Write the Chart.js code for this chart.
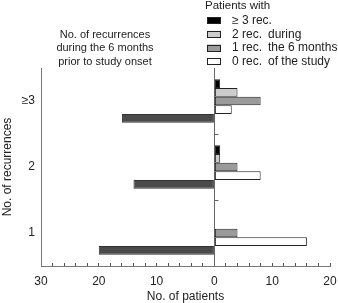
<!DOCTYPE html>
<html>
<head>
<meta charset="utf-8">
<script src="https://cdn.jsdelivr.net/npm/chart.js@4"></script>
<style>
  html, body { margin: 0; padding: 0; background: #fff; }
  #wrap { width: 338px; height: 303px; }
</style>
</head>
<body>
<div id="wrap"><canvas id="chart" width="338" height="303"></canvas></div>
<script>
const categories = ['≥3', '2', '1'];
// patients per group, by number of recurrences during the study
const rec3 = [1, 1, 0];
const rec2 = [4, 1, 0];
const rec1 = [8, 4, 4];
const rec0 = [3, 8, 16];
// patients per group (plotted to the left)
const prior = [16, 14, 20];

const legendTitle = 'Patients with';
const legendLabels = ['≥ 3 rec.', '2 rec.', '1 rec.', '0 rec.'];
const legendNotes = ['', 'during', 'the 6 months', 'of the study'];
const noteLines = ['No. of recurrences', 'during the 6 months', 'prior to study onset'];

const FONT = '"Liberation Sans", Arial, sans-serif';
const TEXT = '#222';

function bar(data, fill) {
  return {
    data: data,
    backgroundColor: fill,
    borderColor: '#222',
    borderWidth: 1,
    borderSkipped: false,
    barPercentage: 1,
    categoryPercentage: 0.66
  };
}

const annotations = {
  id: 'annotations',
  beforeDatasetsDraw(chart) {
    const {ctx, chartArea, scales: {x, y}} = chart;
    const x0 = Math.round(x.getPixelForValue(0)) + 0.5;
    ctx.save();
    ctx.strokeStyle = '#666';
    ctx.lineWidth = 1;
    ctx.beginPath();
    ctx.moveTo(x0, chartArea.top);
    ctx.lineTo(x0, chartArea.bottom);
    for (let i = 0; i < categories.length - 1; i++) {
      const yb = Math.round((y.getPixelForValue(i) + y.getPixelForValue(i + 1)) / 2) + 0.5;
      ctx.moveTo(x0, yb);
      ctx.lineTo(x0 + 4, yb);
    }
    ctx.stroke();
    ctx.restore();
  },
  afterDraw(chart) {
    const ctx = chart.ctx;
    ctx.save();
    ctx.fillStyle = TEXT;
    ctx.textBaseline = 'middle';
    ctx.textAlign = 'left';
    ctx.font = '11.5px ' + FONT;
    ctx.fillText(legendTitle, 205, 6);
    ctx.font = '12px ' + FONT;
    for (let i = 0; i < legendLabels.length; i++) {
      const top = 17 + i * 13.8;
      const ds = chart.data.datasets[i];
      ctx.fillStyle = ds.backgroundColor;
      ctx.fillRect(207, top, 14, 7);
      ctx.strokeStyle = '#222';
      ctx.lineWidth = 1;
      ctx.strokeRect(207.5, Math.round(top) + 0.5, 13, 6);
      ctx.fillStyle = TEXT;
      ctx.fillText(legendLabels[i], 232, top + 3.5);
      ctx.fillText(legendNotes[i], 268, top + 3.5);
    }
    ctx.font = '11px ' + FONT;
    ctx.textAlign = 'center';
    noteLines.forEach((line, i) => {
      ctx.fillText(line, 105, 35 + i * 13.3);
    });
    ctx.restore();
  }
};

new Chart(document.getElementById('chart'), {
  type: 'bar',
  data: {
    labels: categories,
    datasets: [
      bar(rec3, '#000000'),
      bar(rec2, '#cccccc'),
      bar(rec1, '#9a9a9a'),
      bar(rec0, '#ffffff'),
      Object.assign(bar(prior.map(v => -v), '#4a4a4a'), {borderColor: '#333'})
    ]
  },
  options: {
    indexAxis: 'y',
    responsive: false,
    animation: false,
    devicePixelRatio: 1,
    layout: {padding: {top: 68, right: 8, left: 0, bottom: 0}},
    plugins: {
      legend: {display: false},
      tooltip: {enabled: false}
    },
    scales: {
      x: {
        min: -30,
        max: 20,
        afterFit(scale) {
          scale.height = 37;
          scale.paddingLeft = 0;
          scale.paddingRight = 0;
        },
        ticks: {
          stepSize: 2,
          maxTicksLimit: 30,
          autoSkip: false,
          maxRotation: 0,
          padding: 11,
          color: TEXT,
          font: {family: FONT, size: 12},
          callback: v => (v % 10 === 0 ? String(Math.abs(v)) : '')
        },
        grid: {
          drawOnChartArea: false,
          drawTicks: true,
          tickLength: -3,
          color: '#555'
        },
        border: {display: true, color: '#777'},
        title: {
          display: true,
          text: 'No. of patients',
          color: TEXT,
          font: {family: FONT, size: 12, lineHeight: 1},
          padding: 0
        }
      },
      y: {
        afterFit(scale) { scale.width = 41; },
        ticks: {
          padding: 6,
          color: TEXT,
          font: {family: FONT, size: 12}
        },
        grid: {display: false, drawTicks: false},
        border: {display: true, color: '#777'},
        title: {
          display: true,
          text: 'No. of recurrences',
          color: TEXT,
          font: {family: FONT, size: 12},
          padding: 0
        }
      }
    }
  },
  plugins: [annotations]
});
</script>
</body>
</html>
